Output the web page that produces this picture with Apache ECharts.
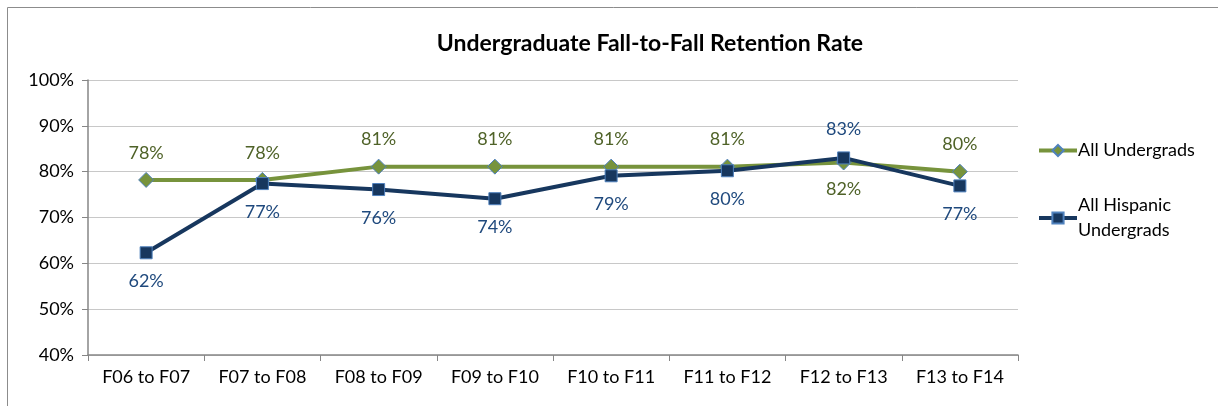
<!DOCTYPE html>
<html><head><meta charset="utf-8">
<script src="https://cdn.jsdelivr.net/npm/echarts@6/dist/echarts.min.js"></script>
<style>html,body{margin:0;padding:0;background:#fff}#c{width:1218px;height:406px}</style>
</head><body><div id="c"></div>
<script>
const categories = ['F06 to F07','F07 to F08','F08 to F09','F09 to F10','F10 to F11','F11 to F12','F12 to F13','F13 to F14'];
const allUndergrads = [78.2, 78.2, 81.1, 81.1, 81.1, 81.1, 82.0, 80.0];
const allHispanic = [62.3, 77.4, 76.1, 74.1, 79.1, 80.2, 83.0, 76.9];
const greenLabelPos = ['top','top','top','top','top','top','bottom','top'];
const blueLabelPos = ['bottom','bottom','bottom','bottom','bottom','bottom','top','bottom'];
const FONT = 'Lato, "Liberation Sans", sans-serif';
const chart = echarts.init(document.getElementById('c'));
chart.setOption({
  animation:false,
  textStyle:{fontFamily:FONT},
  title:{text:'Undergraduate Fall-to-Fall Retention Rate', left:645, textAlign:'center', top:27,
    textStyle:{fontFamily:FONT, fontSize:23, fontWeight:'bold', color:'#000'}},
  graphic:[{type:'rect', shape:{x:7.5,y:7.5,width:1220,height:410}, style:{fill:'none', stroke:'#8c8c8c', lineWidth:1}, silent:true}],
  grid:{left:88, right:200, top:80, bottom:51},
  legend:{orient:'vertical', left:1032, top:133, itemGap:30, itemWidth:38, itemHeight:14,
    textStyle:{fontFamily:FONT, fontSize:18, color:'#000', lineHeight:25, padding:[0,0,0,-4]},
    lineStyle:{width:4},
    data:[{name:'All Undergrads'},{name:'All Hispanic\nUndergrads'}]},
  xAxis:{type:'category', data:categories, boundaryGap:true,
    axisLine:{lineStyle:{color:'#868686', width:1.5}},
    axisTick:{show:true, length:6, lineStyle:{color:'#868686'}},
    axisLabel:{color:'#000', fontSize:18, margin:13, fontFamily:FONT}},
  yAxis:{type:'value', min:40, max:100, interval:10,
    axisLine:{show:true, lineStyle:{color:'#868686', width:1.5}},
    axisTick:{show:true, length:6, lineStyle:{color:'#868686'}},
    splitLine:{lineStyle:{color:'#c8c8c8'}},
    axisLabel:{color:'#000', fontSize:18, margin:14, fontFamily:FONT, formatter:v=>v+'%'}},
  series:[
    {name:'All Undergrads', type:'line', data:allUndergrads.map((v,i)=>({value:v, label:{position:greenLabelPos[i]}})),
      symbol:'diamond', symbolSize:15, lineStyle:{color:'#77933C', width:4},
      itemStyle:{color:'#77933C', borderColor:'#4F81BD', borderWidth:1},
      label:{show:true, distance:10, fontSize:18, color:'#4F6228', fontFamily:FONT, formatter:p=>Math.round(p.value)+'%'}, z:2},
    {name:'All Hispanic\nUndergrads', type:'line', data:allHispanic.map((v,i)=>({value:v, label:{position:blueLabelPos[i]}})),
      symbol:'rect', symbolSize:12, lineStyle:{color:'#17375E', width:4},
      itemStyle:{color:'#17375E', borderColor:'#4F81BD', borderWidth:1},
      label:{show:true, distance:13, fontSize:18, color:'#1F497D', fontFamily:FONT, formatter:p=>Math.round(p.value)+'%'}, z:3}
  ]
});
</script></body></html>
